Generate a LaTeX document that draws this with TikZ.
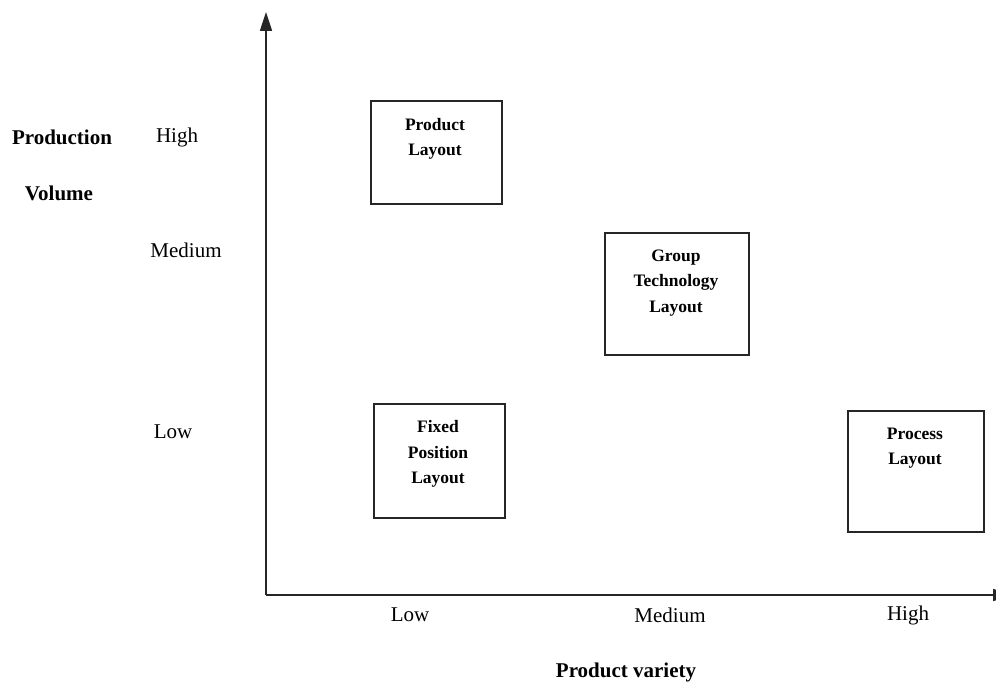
\documentclass[tikz,border=0pt]{standalone}
\usepackage{fontspec}
\setmainfont{Liberation Serif}
\usetikzlibrary{arrows.meta}
\tikzset{
  axis/.style={line width=1.7pt, draw=black!85, -{Triangle[width=12pt,length=19pt]}},
  layoutbox/.style={draw=black!85, line width=1.5pt, rectangle, inner sep=0pt},
  boxtext/.style={align=center, font=\bfseries\fontsize{17.5}{25.5}\selectfont, inner sep=0pt},
  ticklabel/.style={font=\fontsize{21}{25}\selectfont, inner sep=0pt},
  axistitle/.style={font=\bfseries\fontsize{21}{25}\selectfont, inner sep=0pt}
}
\begin{document}
\begin{tikzpicture}[x=1pt,y=-1pt]
\useasboundingbox (0,0) rectangle (996,684);
% axes
\coordinate (origin) at (266,595);
\coordinate (ytip) at (266,12);
\coordinate (xtip) at (1012,595);
\draw [axis] (origin) -- (ytip);
\draw [axis] (origin) -- (xtip);
% vertical axis labels
\node [axistitle] (prodvol) at (62,137) {Production};
\node [axistitle] (volume) at (59,193) {Volume};
\node [ticklabel] (yhigh) at (177,137) {High};
\node [ticklabel] (ymed) at (186,250) {Medium};
\node [ticklabel] (ylow) at (173,432) {Low};
% horizontal axis labels
\node [ticklabel] (xlow) at (410,615) {Low};
\node [ticklabel] (xmed) at (670,615) {Medium};
\node [ticklabel] (xhigh) at (908,615) {High};
\node [axistitle] (variety) at (626,672) {Product variety};
% layout boxes
\node [layoutbox, minimum width=131pt, minimum height=103pt] (product) at (436.5,152.5) {};
\node [boxtext] (producttext) at (435,139) {Product\\Layout};
\node [layoutbox, minimum width=144pt, minimum height=122pt] (group) at (677,294) {};
\node [boxtext] (grouptext) at (676,283) {Group\\Technology\\Layout};
\node [layoutbox, minimum width=131pt, minimum height=114pt] (fixed) at (439.5,461) {};
\node [boxtext] (fixedtext) at (438,454) {Fixed\\Position\\Layout};
\node [layoutbox, minimum width=136pt, minimum height=121pt] (process) at (916,471.5) {};
\node [boxtext] (processtext) at (915,448) {Process\\Layout};
\end{tikzpicture}
\end{document}
